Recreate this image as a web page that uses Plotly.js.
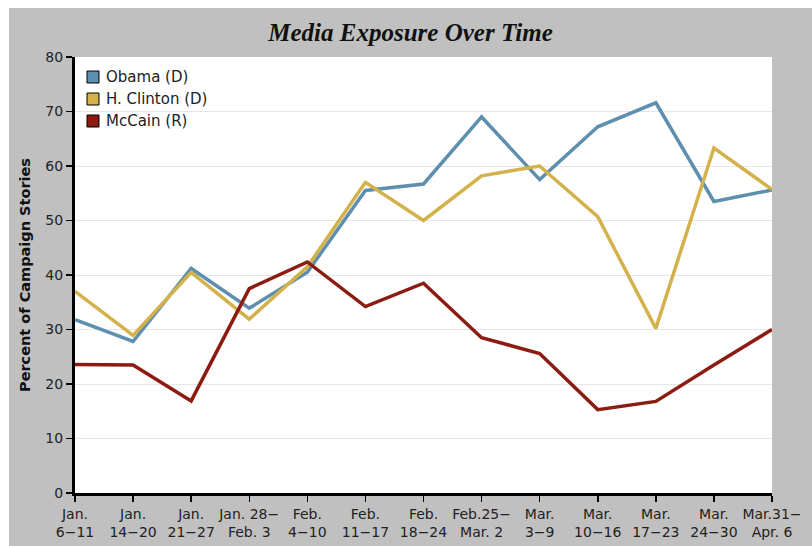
<!DOCTYPE html>
<html>
<head>
<meta charset="utf-8">
<script src="https://cdn.plot.ly/plotly-3.0.1.min.js"></script>
<style>
html,body{margin:0;padding:0;background:#fff;width:812px;height:546px;overflow:hidden;}
#chart{position:absolute;left:9px;top:8px;width:803px;height:538px;}
</style>
</head>
<body>
<div id="chart"></div>
<script>
const weeks = ["Jan.<br>6\u221211","Jan.<br>14\u221220","Jan.<br>21\u221227","Jan. 28\u2212<br>Feb. 3","Feb.<br>4\u221210","Feb.<br>11\u221217","Feb.<br>18\u221224","Feb.25\u2212<br>Mar. 2","Mar.<br>3\u22129","Mar.<br>10\u221216","Mar.<br>17\u221223","Mar.<br>24\u221230","Mar.31\u2212<br>Apr. 6"];
const obama   = [31.8, 27.8, 41.2, 33.9, 40.5, 55.5, 56.7, 69.0, 57.5, 67.2, 71.6, 53.5, 55.6];
const clinton = [37.0, 28.9, 40.5, 31.9, 41.5, 57.0, 50.0, 58.2, 60.0, 50.7, 30.2, 63.3, 55.7];
const mccain  = [23.6, 23.5, 16.9, 37.5, 42.4, 34.2, 38.5, 28.5, 25.6, 15.3, 16.8, 23.5, 30.0];
const seriesNames = ["Obama (D)", "H. Clinton (D)", "McCain (R)"];
const yTicks = [0,10,20,30,40,50,60,70,80];

const colors = ["#5f8fae", "#d4b24b", "#8c1c12"];
const xs = weeks.map((w,i)=>i);
const data = [obama, clinton, mccain].map((vals,k)=>({
  x: xs, y: vals, type: "scatter", mode: "lines", name: seriesNames[k],
  line: {color: colors[k], width: 3.5},
  showlegend: false, hoverinfo: "skip"
}));

// custom legend (square swatches + labels)
const shapes = [], annotations = [];
seriesNames.forEach((n,k)=>{
  const cy = -20 - 22*k;
  shapes.push({type:"rect", xref:"paper", yref:"paper", xsizemode:"pixel", ysizemode:"pixel",
    xanchor:0, yanchor:1, x0:12, x1:24, y0:cy-6, y1:cy+6,
    fillcolor:colors[k], line:{color:"#000", width:1}});
  annotations.push({text:n, xref:"paper", yref:"paper", x:0, y:1, xshift:29, yshift:cy,
    xanchor:"left", yanchor:"middle", showarrow:false,
    font:{family:"DejaVu Sans, sans-serif", size:15, color:"#222"}});
});

const layout = {
  width: 803, height: 538,
  paper_bgcolor: "#c0c0c0", plot_bgcolor: "#ffffff",
  margin: {l: 66, r: 40, t: 49, b: 53},
  title: {text: "Media Exposure Over Time", x: 0.5, xanchor: "center", y: 0.955, yanchor: "middle",
          font: {family: "Liberation Serif, serif", size: 25, color: "#111", weight: "bold", style: "italic"}},
  font: {family: "DejaVu Sans, sans-serif", size: 13, color: "#222"},
  xaxis: {
    range: [0, 12], tickvals: xs, ticktext: weeks,
    showgrid: false, zeroline: false,
    showline: true, linecolor: "#000", linewidth: 3,
    ticks: "outside", ticklen: 6, tickcolor: "#000", tickwidth: 1.5,
    tickfont: {family: "DejaVu Sans, sans-serif", size: 14, color: "#222"},
    fixedrange: true
  },
  yaxis: {
    range: [0, 80], tickvals: yTicks,
    showgrid: true, gridcolor: "#e6e6e6", gridwidth: 1,
    zeroline: false, showline: true, linecolor: "#000", linewidth: 3,
    ticks: "outside", ticklen: 6, tickcolor: "#000", tickwidth: 1.5,
    tickfont: {family: "DejaVu Sans, sans-serif", size: 14, color: "#222"},
    title: {text: "Percent of Campaign Stories", standoff: 12,
            font: {family: "DejaVu Sans, sans-serif", size: 14.5, color: "#111", weight: "bold"}},
    fixedrange: true
  },
  shapes: shapes,
  annotations: annotations,
  showlegend: false
};
Plotly.newPlot("chart", data, layout, {displayModeBar: false, staticPlot: true});
</script>
</body>
</html>
